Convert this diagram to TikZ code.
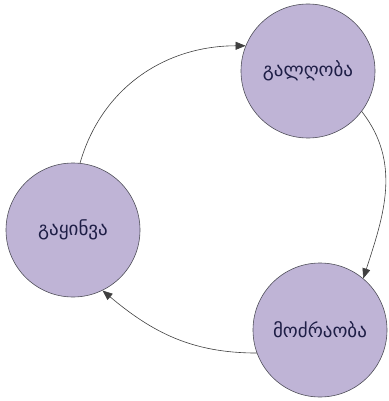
\documentclass[tikz,border=0pt]{standalone}
\usepackage{fontspec}
\newfontfamily\geofont{DejaVu Sans}
\usetikzlibrary{arrows.meta}
\definecolor{statefill}{RGB}{191,180,214}
\definecolor{stateline}{RGB}{80,80,90}
\definecolor{statetext}{RGB}{30,30,70}
\begin{document}
\begin{tikzpicture}[x=1pt,y=-1pt,
  state/.style={circle, draw=stateline, line width=0.6pt, fill=statefill,
    minimum size=134pt, inner sep=0pt, font=\geofont\fontsize{19}{22}\selectfont, text=statetext},
  flow/.style={draw=black!75, line width=0.6pt, -{Triangle[length=10pt,width=8pt]}}]
\useasboundingbox (0,0) rectangle (388,401);
\node[state] (thaw) at (308,71) {გალღობა};
\node[state] (move) at (320,330) {მოძრაობა};
\node[state] (freeze) at (73,230) {გაყინვა};
\draw[flow] (freeze.84) to[out=74,in=180] (thaw.158);
\draw[flow] (thaw.-37) to[out=-52,in=72] (move.50);
\draw[flow] (move.200) to[out=180,in=-40] (freeze.-64);
\end{tikzpicture}
\end{document}
